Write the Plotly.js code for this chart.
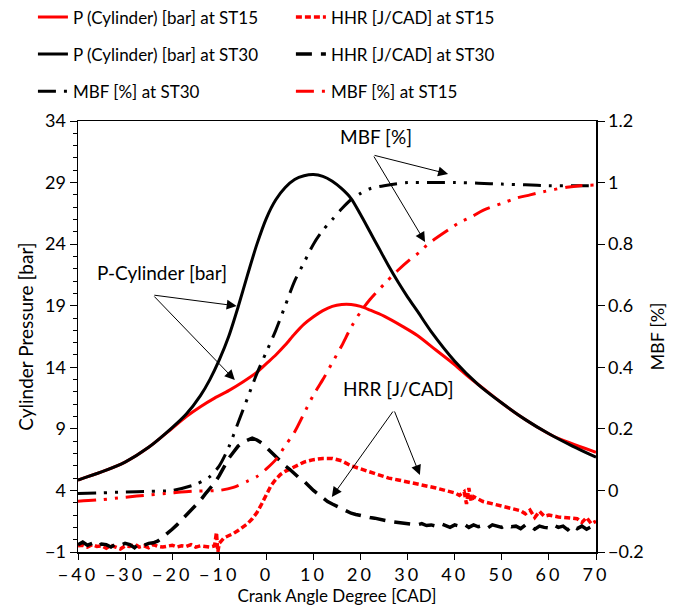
<!DOCTYPE html>
<html>
<head>
<meta charset="utf-8">
<script src="https://cdn.plot.ly/plotly-3.0.1.min.js"></script>
<style>
html,body{margin:0;padding:0;background:#fff;}
#chart{width:681px;height:613px;}
#chart .xtick text{letter-spacing:3px;}
</style>
</head>
<body>
<div id="chart"></div>
<script>
// Crank angle grids and values
const cadP30 = [-40,-35,-30,-25,-20,-17,-14,-12,-10,-8,-6,-4,-2,0,2,4,6,8,10,12,14,16,18,20,22,24,26,28,30,32,35,40,45,50,55,60,65,70];
const pST30  = [4.85,5.5,6.3,7.5,9.1,10.2,11.7,13.0,14.6,16.5,18.9,21.5,24.0,26.1,27.6,28.6,29.25,29.55,29.65,29.5,29.1,28.5,27.7,26.4,25.0,23.6,22.2,20.9,19.7,18.6,16.9,14.5,12.6,11.1,9.75,8.6,7.6,6.7];

const cadP15 = [-40,-35,-30,-25,-20,-17,-14,-11,-8,-5,-2,0,2,4,6,8,10,12,14,16,18,20,22,25,29,32,36,40,43,46,50,54,57.5,61,64.5,70];
const pST15  = [4.85,5.5,6.3,7.5,9.05,10.0,10.8,11.5,12.1,12.8,13.6,14.3,15.0,15.8,16.7,17.5,18.1,18.6,18.95,19.1,19.1,18.95,18.65,18.15,17.3,16.6,15.4,14.2,13.2,12.3,11.1,10.0,9.15,8.4,7.85,7.1];

const cadHRR30 = [-40,-39,-38,-37,-36,-35,-34,-33,-32,-31,-30,-29,-28,-27,-26,-25,-24,-23,-22,-21,-20,-19,-18,-17,-16,-15,-14,-13,-12,-11,-10,-9,-8,-7,-6,-5,-4,-3,-2,-1,0,1,2,3,4,5,6,7,8,9,10,11,12,13,14,15,16,17,18,19,20,21,22,23,24,25,26,27,28,29,30,31,32,33,34,35,36,37,38,39,40,41,42,43,44,45,46,47,48,49,50,51,52,53,54,55,56,57,58,59,60,61,62,63,64,65,66,67,68,69,70];
const hrrST30  = [-0.4,-0.2,-0.45,-0.3,-0.55,-0.35,-0.4,-0.6,-0.35,-0.45,-0.3,-0.4,-0.65,-0.3,-0.45,-0.3,-0.25,-0.1,0.2,0.5,0.85,1.2,1.6,1.9,2.3,2.7,3.2,3.7,4.1,4.6,5.2,5.9,6.6,7.1,7.6,7.9,8.1,8.25,8.1,7.85,7.5,7.1,6.7,6.3,6.0,5.7,5.3,5.0,4.75,4.35,4.0,3.7,3.4,3.1,2.9,2.7,2.5,2.3,2.15,2.05,1.95,1.9,1.8,1.75,1.65,1.6,1.5,1.45,1.4,1.4,1.35,1.3,1.2,1.3,1.15,1.2,1.1,1.3,1.15,1.0,1.2,1.1,1.25,1.0,1.2,1.05,1.15,0.95,1.2,1.1,1.0,1.2,1.05,1.1,0.9,1.2,1.15,0.85,1.1,1.0,0.95,1.2,1.0,1.1,0.8,1.15,0.9,1.1,0.85,1.05,1.0];

const cadHRR15 = [-40,-39,-38,-37,-36,-35,-34,-33,-32,-31,-30,-29,-28,-27,-26,-25,-24,-23,-22,-21,-20,-19,-18,-17,-16,-15,-14,-13,-12,-11,-10.6,-10.3,-10,-9,-8,-7,-6,-5,-4,-3,-2,-1,0,1,2,3,4,5,6,7,8,10,12,14,16,18,20,22,24,26,28,30,32,34,36,38,40,41,42,42.5,43,43.5,44,46,48,50,52,54,55,56,57,58,59,60,62,64,66,67,68,69,70];
const hrrST15  = [-0.5,-0.45,-0.6,-0.4,-0.55,-0.5,-0.7,-0.45,-0.6,-0.75,-0.5,-0.55,-0.35,-0.6,-0.5,-0.65,-0.4,-0.55,-0.6,-0.5,-0.45,-0.6,-0.5,-0.55,-0.4,-0.6,-0.5,-0.55,-0.6,-0.5,0.6,-1.0,-0.3,0.15,0.3,0.5,0.75,1.0,1.3,1.7,2.2,2.9,3.7,4.4,4.9,5.3,5.55,5.75,5.95,6.15,6.3,6.5,6.6,6.6,6.4,6.0,5.75,5.45,5.2,5.0,4.85,4.7,4.55,4.35,4.2,4.0,3.8,3.6,3.9,2.9,4.2,3.1,3.5,3.1,2.9,2.75,2.55,2.35,2.1,2.4,1.8,2.3,1.9,2.0,1.85,1.75,1.7,1.4,1.8,1.3,1.5];

const cadMBF30 = [-40,-35,-30,-25,-20,-15,-12,-10,-8,-6,-4,-2,0,2,4,6,8,10,12,14,16,18,20,22,25,30,35,40,45,50,55,60,65,70];
const mbfST30  = [-0.01,-0.008,-0.005,-0.003,0.0,0.02,0.045,0.08,0.14,0.22,0.3,0.38,0.45,0.52,0.6,0.68,0.74,0.8,0.845,0.88,0.915,0.945,0.965,0.98,0.99,1.0,1.0,1.0,0.998,0.995,0.993,0.99,0.99,0.99];

const cadMBF15 = [-40,-35,-30,-25,-20,-15,-10,-7,-4,-2,0,2,4,6,8,10,12,14,16,18,20,22,25,28,30.5,32.6,34.3,39,41,43.7,46,50.3,53.2,56,58.7,63.8,66.6,70];
const mbfST15  = [-0.035,-0.03,-0.022,-0.015,-0.008,-0.002,0.0,0.01,0.03,0.045,0.07,0.1,0.145,0.19,0.25,0.31,0.36,0.415,0.47,0.53,0.58,0.62,0.67,0.716,0.75,0.775,0.80,0.85,0.87,0.89,0.91,0.934,0.95,0.96,0.97,0.985,0.99,0.992];

const xTicks = [-40,-30,-20,-10,0,10,20,30,40,50,60,70];
const yTicks = [-1,4,9,14,19,24,29,34];
const y2Ticks = [-0.2,0,0.2,0.4,0.6,0.8,1,1.2];

const FONT = 'Lato, "Open Sans", sans-serif';
const RED = '#ff0000', BLK = '#000000';
const mbfDash = '18px,8px,3px,8px,3px,8px';

const traces = [
  {x:cadP15, y:pST15, name:'P (Cylinder) [bar] at ST15', mode:'lines', line:{color:RED,width:3,shape:'spline',smoothing:0.8}, legend:'legend', legendgroup:'a'},
  {x:cadP30, y:pST30, name:'P (Cylinder) [bar] at ST30', mode:'lines', line:{color:BLK,width:3,shape:'spline',smoothing:0.8}, legend:'legend', legendgroup:'b'},
  {x:cadMBF30, y:mbfST30, name:'MBF [%] at ST30', mode:'lines', yaxis:'y2', line:{color:BLK,width:3,dash:mbfDash,shape:'spline',smoothing:0.8}, legend:'legend', legendgroup:'c'},
  {x:cadHRR15, y:hrrST15, name:'HHR [J/CAD] at ST15', mode:'lines', line:{color:RED,width:3.5,dash:'6px,3px'}, legend:'legend2', legendgroup:'d'},
  {x:cadHRR30, y:hrrST30, name:'HHR [J/CAD] at ST30', mode:'lines', line:{color:BLK,width:3.5,dash:'16px,9px'}, legend:'legend2', legendgroup:'e'},
  {x:cadMBF15, y:mbfST15, name:'MBF [%] at ST15', mode:'lines', yaxis:'y2', line:{color:RED,width:3,dash:mbfDash,shape:'spline',smoothing:0.8}, legend:'legend2', legendgroup:'f'}
];

const arrowCommon = {xref:'x', yref:'y', axref:'x', ayref:'y', showarrow:true, arrowhead:2, arrowsize:2, arrowwidth:1, arrowcolor:'#000', text:'', standoff:0, startstandoff:0};
const annFont = {family:FONT,size:19,color:'#000'};
const annotations = [
  {xref:'x', yref:'y', x:-22.1, y:21.7, text:'P-Cylinder [bar]', showarrow:false, font:annFont},
  Object.assign({x:-6.3, y:18.98, ax:-24.1, ay:19.87}, arrowCommon),
  Object.assign({x:-6.7, y:12.97, ax:-24.1, ay:19.87}, arrowCommon),
  {xref:'x', yref:'y', x:23.3, y:32.74, text:'MBF [%]', showarrow:false, font:annFont},
  Object.assign({x:38.6, y:29.7, ax:22.65, ay:31.24}, arrowCommon),
  Object.assign({x:33.7, y:24.17, ax:22.65, ay:31.24}, arrowCommon),
  {xref:'x', yref:'y', x:28.1, y:12.24, text:'HRR [J/CAD]', showarrow:false, font:annFont},
  Object.assign({x:13.9, y:3.47, ax:27.1, ay:10.53}, arrowCommon),
  Object.assign({x:32.6, y:5.25, ax:27.1, ay:10.53}, arrowCommon)
];

const legendCommon = {orientation:'v', yanchor:'top', xanchor:'left', y:1.282, bgcolor:'rgba(0,0,0,0)', borderwidth:0,
  font:{family:FONT,size:17,color:'#000'}, traceorder:'grouped', tracegroupgap:12};

const layout = {
  width:681, height:613,
  margin:{l:78, r:85, t:121, b:61, autoexpand:false},
  paper_bgcolor:'#fff', plot_bgcolor:'#fff',
  font:{family:FONT, size:17, color:'#000'},
  showlegend:true,
  legend:Object.assign({x:-0.087}, legendCommon),
  legend2:Object.assign({x:0.411}, legendCommon),
  xaxis:{range:[-40,70], tickvals:xTicks, ticks:'outside', ticklen:6, tickwidth:1, tickcolor:'#000',
    showline:true, linecolor:'#000', linewidth:1.5, mirror:true, showgrid:false, zeroline:false,
    tickfont:{family:FONT,size:18}, title:{text:'Crank Angle Degree [CAD]', font:{family:FONT,size:17}, standoff:4}},
  yaxis:{range:[-1,34], tickvals:yTicks, ticks:'outside', ticklen:7, tickwidth:1, tickcolor:'#000',
    minor:{dtick:1, tick0:0, ticks:'outside', ticklen:4, tickcolor:'#000', showgrid:false},
    showline:true, linecolor:'#000', linewidth:1.5, showgrid:false, zeroline:false,
    tickfont:{family:FONT,size:18}, title:{text:'Cylinder Pressure [bar]', font:{family:FONT,size:19}, standoff:6}},
  yaxis2:{range:[-0.2,1.2], tickvals:y2Ticks, overlaying:'y', side:'right', ticks:'outside', ticklen:7, tickwidth:1, tickcolor:'#000',
    showline:true, linecolor:'#000', linewidth:1.5, showgrid:false, zeroline:false,
    tickfont:{family:FONT,size:18}, title:{text:'MBF [%]', font:{family:FONT,size:18}, standoff:8}},
  annotations:annotations
};

Plotly.newPlot('chart', traces, layout, {displayModeBar:false, staticPlot:true});
</script>
</body>
</html>
